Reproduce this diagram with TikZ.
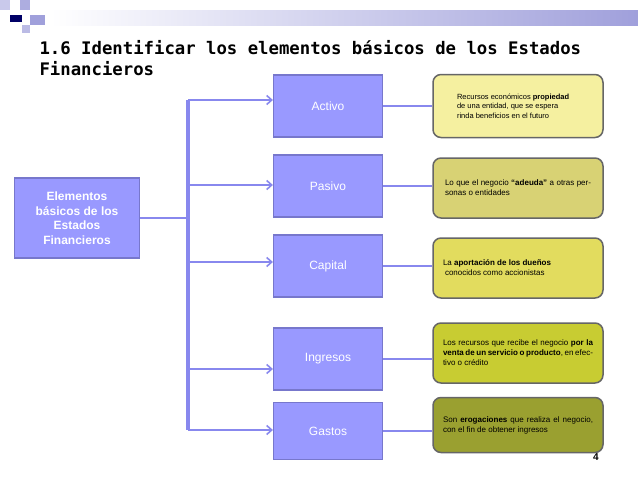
\documentclass[tikz,border=0pt]{standalone}
\usepackage{fontspec}
\usetikzlibrary{arrows.meta}
\setmainfont{Liberation Sans}
\newfontfamily\titlefont{DejaVu Sans Mono}
\definecolor{bx}{HTML}{9999FF}
\definecolor{bxd}{HTML}{7777CC}
\definecolor{ln}{HTML}{8888EE}
\definecolor{dA}{HTML}{F5F0A0}
\definecolor{dB}{HTML}{D8D274}
\definecolor{dC}{HTML}{E2DC5E}
\definecolor{dD}{HTML}{C8CC32}
\definecolor{dE}{HTML}{9AA030}
\begin{document}
\begin{tikzpicture}[x=1pt,y=-1pt,
 elem/.style={draw=bxd,fill=bx,line width=1.2pt,minimum width=109pt,minimum height=62pt,text=white,font=\fontsize{12}{14}\selectfont},
 desc/.style={draw=black!60,fill=#1,line width=1.5pt,rounded corners=8pt,minimum width=170pt,text width=150pt,align=justify,font=\fontsize{8}{10}\selectfont},
 con/.style={draw=ln,line width=1.6pt},
 arr/.style={draw=ln,line width=1.6pt,-{Straight Barb[length=5pt,width=9pt]}}]
\useasboundingbox (0,0) rectangle (638,479);
\fill[white] (0,0) rectangle (638,479);
% header decoration
\shade[left color=white,right color=bxd!70] (50,10) rectangle (638,25);
\fill[bxd!40] (0,0) rectangle (10,10);
\fill[bxd!60] (20,0) rectangle (30,10);
\fill[bxd!70] (30,15) rectangle (45,25);
\fill[blue!40!black] (10,15) rectangle (22,22);
\fill[bxd!50] (22,25) rectangle (30,33);
\node[anchor=west,font=\titlefont\bfseries\fontsize{17.3}{21}\selectfont,align=left] (t) at (36,58) {1.6 Identificar los elementos básicos de los Estados\\Financieros};
\node[elem,minimum width=125pt,minimum height=80pt,font=\bfseries\fontsize{12}{14.5}\selectfont,align=center] (m) at (77,218) {Elementos\\básicos de los\\Estados\\Financieros};
\coordinate (top) at (188,100);
\coordinate (bot) at (188,430);
\coordinate (mj) at (188,218);
\draw[ln,line width=4pt] (top) -- (bot);
\draw[con] (m.east) -- (mj);
\node[elem] (a) at (328,106) {Activo};
\node[elem] (p) at (328,186) {Pasivo};
\node[elem] (c) at (328,266) {Capital};
\node[elem] (i) at (328,359) {Ingresos};
\node[elem,minimum height=57pt] (g) at (328,431) {Gastos};
\coordinate (ya) at (188,100); \coordinate (yp) at (188,185);
\coordinate (yc) at (188,262); \coordinate (yi) at (188,369); \coordinate (yg) at (188,430);
\draw[arr] (ya) -- (ya -| a.west);
\draw[arr] (yp) -- (yp -| p.west);
\draw[arr] (yc) -- (yc -| c.west);
\draw[arr] (yi) -- (yi -| i.west);
\draw[arr] (yg) -- (yg -| g.west);
\node[desc=dA,minimum height=63pt,font=\fontsize{7.5}{9.5}\selectfont] (da) at (518,106) {\hspace*{14pt}Recursos económicos \textbf{propiedad}\\\hspace*{14pt}de una entidad, que se espera\\\hspace*{14pt}rinda beneficios en el futuro};
\node[desc=dB,minimum height=60pt,text width=146pt] (dp) at (518,188) {Lo que el negocio \textbf{“adeuda”} a otras personas o entidades};
\node[desc=dC,minimum height=60pt] (dc) at (518,268) {La \textbf{aportación de los dueños}\\\hspace*{2pt}conocidos como accionistas};
\node[desc=dD,minimum height=60pt] (di) at (518,353) {Los recursos que recibe el negocio \textbf{por la venta de un servicio o producto}, en efectivo o crédito};
\node[desc=dE,minimum height=55pt] (dg) at (518,425) {Son \textbf{erogaciones} que realiza el negocio, con el fin de obtener ingresos};
\draw[con] (a.east) -- (a.east -| da.west);
\draw[con] (p.east) -- (p.east -| dp.west);
\draw[con] (c.east) -- (c.east -| dc.west);
\draw[con] (i.east) -- (i.east -| di.west);
\draw[con] (g.east) -- (g.east -| dg.west);
\node[font=\bfseries\fontsize{10}{11}\selectfont] (n) at (596,457) {4};
\end{tikzpicture}
\end{document}
